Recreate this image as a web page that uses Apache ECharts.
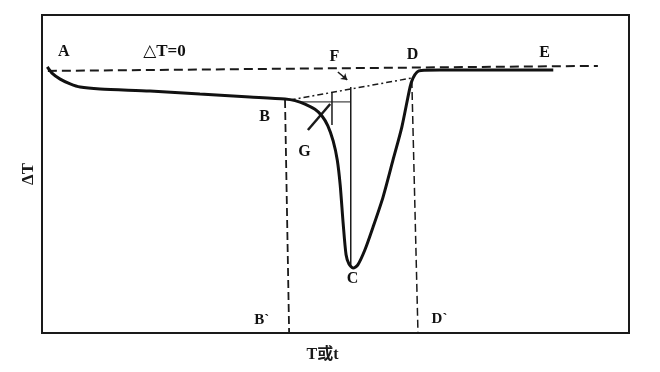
<!DOCTYPE html>
<html><head><meta charset="utf-8">
<script src="https://cdn.jsdelivr.net/npm/echarts@6/dist/echarts.min.js"></script>
<style>html,body{margin:0;padding:0;background:#fff}#c{width:660px;height:372px}</style>
</head><body><div id="c"></div>
<script>
// DTA curve: T (x) vs ΔT (y), arbitrary units
const curveT  = [0.9, 1.7, 3.1, 4.8, 6.5, 9.9, 18.4, 26.9, 35.4, 41.4, 43.1, 44.8, 46.5, 47.7, 48.7, 49.6, 50.3, 50.8, 51.3, 51.8, 52.3, 53.0, 53.8, 55.0, 56.4, 58.1, 59.8, 61.3, 62.7, 63.2, 63.9, 64.6, 67.8, 78.0, 87.1];
const curveDT = [0.4, -1.9, -4.2, -6.0, -7.2, -7.9, -8.7, -9.8, -10.9, -11.7, -12.3, -13.6, -15.6, -18.1, -21.8, -27.5, -34.7, -44.2, -58.5, -70.5, -74.0, -75.5, -74.3, -68.7, -60.0, -48.7, -34.7, -22.3, -7.2, -3.8, -1.5, -0.9, -0.8, -0.8, -0.8];

// construction lines
const zeroLineT = [1.0, 94.7],  zeroLineDT = [-1.1, 0.8];      // ΔT=0
const extBaseT  = [42.2, 62.9], extBaseDT  = [-12.1, -3.8];    // B-D extrapolated baseline
const fLineT    = [52.6, 52.6], fLineDT    = [-7.2, -75.1];    // F-C
const bPrimeT   = [41.4, 42.1], bPrimeDT   = [-12.1, -100];    // B-B`
const dPrimeT   = [63.0, 64.05],dPrimeDT   = [-4.5, -100];     // D-D`
const hLineT    = [43.6, 52.5], hLineDT    = [-12.8, -12.8];
const vLineT    = [49.4, 49.4], vLineDT    = [-9.1, -21.5];
const tanT      = [45.3, 49.1], tanDT      = [-23.4, -13.6];   // G tangent stroke
const arrowT    = [50.4, 52.0], arrowDT    = [-1.5, -4.5];     // F arrow

// point labels
const labelNames = ['A', '△T=0', 'F', 'D', 'E', 'B', 'G', 'C', 'B`', 'D`'];
const labelT     = [3.8, 20.95, 49.9, 63.2, 85.7, 38.0, 44.8, 53.0, 37.5, 67.8];
const labelDT    = [6.0, 6.0, 4.2, 4.9, 5.7, -18.5, -31.7, -79.6, -95.5, -95.1];
const labelSize  = [16, 17, 16, 16, 16, 16, 16, 16, 15, 15];

const xAxisName = 'T或t';
const yAxisName = 'ΔT';

const zip = (a, b) => a.map((v, i) => [v, b[i]]);
const serif = "'Liberation Serif','DejaVu Serif',serif";

function seg(t, dt, width, type) {
  return {type: 'line', data: zip(t, dt), symbol: 'none', silent: true,
    lineStyle: {color: '#1a1a1a', width: width, type: type}, z: 2};
}

const chart = echarts.init(document.getElementById('c'));
chart.setOption({
  backgroundColor: '#fff',
  animation: false,
  grid: {left: 42, top: 15, width: 587, height: 318, show: true, borderColor: '#1a1a1a', borderWidth: 2, backgroundColor: 'transparent'},
  xAxis: {type: 'value', min: 0, max: 100, axisLine: {show: false}, axisTick: {show: false}, axisLabel: {show: false}, splitLine: {show: false},
    name: xAxisName, nameLocation: 'middle', nameGap: 14,
    nameTextStyle: {fontFamily: serif + ",'Noto Sans CJK SC'", fontWeight: 'bold', fontSize: 16, color: '#1a1a1a', padding: [0, 26, 0, 0]}},
  yAxis: {type: 'value', min: -100, max: 20, axisLine: {show: false}, axisTick: {show: false}, axisLabel: {show: false}, splitLine: {show: false},
    name: yAxisName, nameLocation: 'middle', nameGap: 5, nameRotate: 90,
    nameTextStyle: {fontFamily: serif, fontWeight: 'bold', fontSize: 17, color: '#1a1a1a'}},
  series: [
    seg(zeroLineT, zeroLineDT, 2, [9, 5]),
    seg(extBaseT, extBaseDT, 1.5, [6, 3, 2, 3]),
    seg(fLineT, fLineDT, 1.5, 'solid'),
    seg(bPrimeT, bPrimeDT, 1.8, [8, 4]),
    seg(dPrimeT, dPrimeDT, 1.5, [8, 4]),
    seg(hLineT, hLineDT, 1, 'solid'),
    seg(vLineT, vLineDT, 1.5, 'solid'),
    seg(tanT, tanDT, 2.5, 'solid'),
    {type: 'lines', coordinateSystem: 'cartesian2d', silent: true,
      symbol: ['none', 'arrow'], symbolSize: 6,
      lineStyle: {color: '#1a1a1a', width: 1.5, opacity: 1},
      data: [{coords: zip(arrowT, arrowDT)}], z: 3},
    {type: 'line', data: zip(curveT, curveDT), symbol: 'none', smooth: 0.25, silent: true,
      lineStyle: {color: '#111', width: 3}, z: 4},
    {type: 'scatter', symbolSize: 1, silent: true, z: 5, itemStyle: {color: 'rgba(0,0,0,0)'},
      data: labelNames.map((n, i) => ({name: n, value: [labelT[i], labelDT[i]],
        label: {fontSize: labelSize[i]}})),
      label: {show: true, position: [0, 0], align: 'center', verticalAlign: 'middle', formatter: p => p.name,
        fontFamily: serif, fontWeight: 'bold', fontSize: 16, color: '#111', opacity: 1, textBorderWidth: 0}}
  ]
});
</script></body></html>
